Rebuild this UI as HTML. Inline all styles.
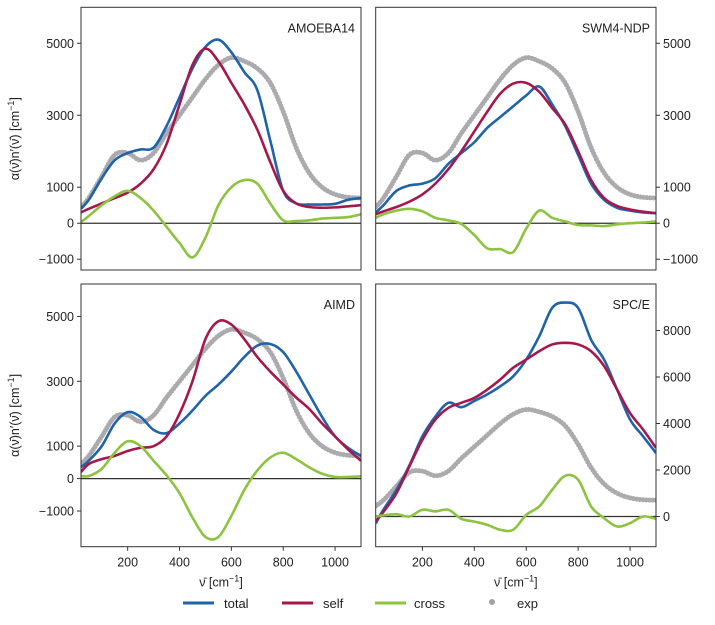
<!DOCTYPE html>
<html><head><meta charset="utf-8"><style>
body{margin:0;background:#fff;}
svg{display:block;font-family:"Liberation Sans","DejaVu Sans",sans-serif;}
</style></head><body>
<svg id="chart" width="715" height="625" viewBox="0 0 715 625"></svg>
<script>
const xs = [20,50,100,150,200,250,300,350,400,450,500,550,600,650,700,750,800,850,900,950,1000,1050,1100];
const expData = [450,700,1300,1900,1950,1750,1950,2500,3000,3500,4000,4400,4600,4500,4300,3900,3100,2100,1400,1000,800,720,700];
const amoebaTotal = [400,650,1250,1750,1950,2050,2100,2700,3500,4300,4900,5100,4750,4200,3700,2300,900,550,520,520,540,650,700];
const amoebaSelf = [300,400,550,700,850,1100,1500,2200,3300,4400,4850,4500,3900,3300,2600,1700,900,550,450,430,440,470,500];
const amoebaCross = [30,200,500,750,900,700,350,-100,-550,-950,-400,500,1000,1200,1100,550,80,60,80,130,150,170,250];
const swmTotal = [300,500,900,1050,1100,1250,1650,1950,2250,2650,2950,3250,3550,3800,3300,2700,1900,1100,650,430,350,300,280];
const swmSelf = [250,330,450,600,800,1100,1500,2000,2550,3100,3600,3880,3900,3650,3200,2750,2000,1200,700,480,380,320,280];
const swmCross = [150,250,350,400,330,150,80,-20,-330,-700,-720,-800,-150,350,150,50,-50,-60,-80,-30,0,20,50];
const aimdTotal = [350,550,1000,1700,2050,1900,1500,1400,1700,2100,2550,2900,3300,3750,4100,4150,3900,3300,2600,1900,1300,950,700];
const aimdSelf = [200,450,600,700,850,950,1000,1300,2000,3000,4300,4850,4750,4300,3750,3300,2900,2500,2150,1700,1300,900,550];
const aimdCross = [80,80,300,800,1150,1000,550,100,-450,-1200,-1800,-1800,-1150,-350,250,650,800,600,350,150,50,50,70];
const spceTotal = [-300,300,1150,2200,3450,4300,4890,4700,4970,5250,5600,6030,6750,7750,8970,9200,8970,7600,6750,5460,4170,3450,2730];
const spceSelf = [-200,200,1000,2160,3300,4170,4670,4890,5100,5460,5890,6400,6750,7110,7400,7470,7400,7110,6470,5460,4450,3740,2950];
const spceCross = [0,50,100,0,290,220,290,-100,-220,-360,-570,-570,70,430,1150,1750,1580,430,-70,-430,-290,0,-100];
const xTicks = [200,400,600,800,1000];
const yTicksA = [-1000,0,1000,3000,5000];
const yTicksB = [0,2000,4000,6000,8000];

const NS="http://www.w3.org/2000/svg";
const svg=document.getElementById('chart');
function mk(tag,attrs,parent){const e=document.createElementNS(NS,tag);for(const k in attrs)e.setAttribute(k,attrs[k]);(parent||svg).appendChild(e);return e;}

const panels=[
 {name:'AMOEBA14',key:'amoeba',x0:81,x1:361,y0:7.3,y1:270,ymin:-1300,ymax:6000,right:false,xt:false,ticks:yTicksA,t:amoebaTotal,s:amoebaSelf,c:amoebaCross},
 {name:'SWM4-NDP',key:'swm4-ndp',x0:375.7,x1:656,y0:7.3,y1:270,ymin:-1300,ymax:6000,right:true,xt:false,ticks:yTicksA,t:swmTotal,s:swmSelf,c:swmCross},
 {name:'AIMD',key:'aimd',x0:81,x1:361,y0:284,y1:546.7,ymin:-2100,ymax:6000,right:false,xt:true,ticks:yTicksA,t:aimdTotal,s:aimdSelf,c:aimdCross},
 {name:'SPC/E',key:'spce',x0:375.7,x1:656,y0:284,y1:546.7,ymin:-1300,ymax:10000,right:true,xt:true,ticks:yTicksB,t:spceTotal,s:spceSelf,c:spceCross}
];

function pathFor(vals,sx,sy){
  const p=xs.map((x,i)=>[sx(x),sy(vals[i])]);
  let d='M'+p[0][0].toFixed(2)+','+p[0][1].toFixed(2);
  for(let i=0;i<p.length-1;i++){
    const p0=p[i-1]||p[i],p1=p[i],p2=p[i+1],p3=p[i+2]||p2;
    const c1=[p1[0]+(p2[0]-p0[0])/6,p1[1]+(p2[1]-p0[1])/6];
    const c2=[p2[0]-(p3[0]-p1[0])/6,p2[1]-(p3[1]-p1[1])/6];
    d+=' C'+c1[0].toFixed(2)+','+c1[1].toFixed(2)+' '+c2[0].toFixed(2)+','+c2[1].toFixed(2)+' '+p2[0].toFixed(2)+','+p2[1].toFixed(2);
  }
  return d;
}

panels.forEach((P,pi)=>{
  const g=mk('g',{});
  
  
  const sx=x=>P.x0+(x-20)/(1100-20)*(P.x1-P.x0);
  const sy=v=>P.y1-(v-P.ymin)/(P.ymax-P.ymin)*(P.y1-P.y0);
  const cid='clip'+pi;
  const cp=mk('clipPath',{id:cid},g);
  mk('rect',{x:P.x0,y:P.y0,width:P.x1-P.x0,height:P.y1-P.y0},cp);
  const zl=mk('line',{x1:P.x0,x2:P.x1,y1:sy(0),y2:sy(0),stroke:'#333',"stroke-width":1.3},g);
  
  
  const cg=mk('g',{"clip-path":'url(#'+cid+')'},g);
  const ex=mk('path',{d:pathFor(expData,sx,sy),fill:'none',stroke:'#a2a2a6',"stroke-width":5,"stroke-linecap":'round',"stroke-dasharray":'0 3.2',opacity:0.9},cg);
  
  
  const order=[['total-series',P.t,'#1f63a9'],['self-series',P.s,'#a6184b'],['cross-series',P.c,'#8cc43f']];
  order.forEach(o=>{
    const e=mk('path',{d:pathFor(o[1],sx,sy),fill:'none',stroke:o[2],"stroke-width":2.6,"stroke-linejoin":'round'},cg);
    
    
  });
  const fr=mk('rect',{x:P.x0,y:P.y0,width:P.x1-P.x0,height:P.y1-P.y0,fill:'none',stroke:'#333',"stroke-width":1},g);
  
  
  const title=mk('text',{x:P.x1-6,y:P.y0+25,"text-anchor":'end',"font-size":12.5,fill:'#222'},g);
  title.textContent=P.name;
  
  
  P.ticks.forEach(v=>{
    const y=sy(v);
    if(P.right){
      mk('line',{x1:P.x1,x2:P.x1+4,y1:y,y2:y,stroke:'#333'},g);
      const t=mk('text',{x:P.x1+7,y:y+4.5,"font-size":12.5,fill:'#222'},g);
      t.textContent=v<0?'\u2212'+Math.abs(v):String(v);
      
      
    }else{
      mk('line',{x1:P.x0-4,x2:P.x0,y1:y,y2:y,stroke:'#333'},g);
      const t=mk('text',{x:P.x0-7,y:y+4.5,"font-size":12.5,fill:'#222',"text-anchor":'end'},g);
      t.textContent=v<0?'\u2212'+Math.abs(v):String(v);
      
      
    }
  });
  if(P.xt){
    xTicks.forEach(v=>{
      const x=sx(v);
      mk('line',{x1:x,x2:x,y1:P.y1,y2:P.y1+4,stroke:'#333'},g);
      const t=mk('text',{x:x,y:P.y1+20,"font-size":12.5,fill:'#222',"text-anchor":'middle'},g);
      t.textContent=String(v);
      
      
    });
    const xl=mk('text',{x:(P.x0+P.x1)/2,y:P.y1+40,"font-size":12.5,fill:'#222',"text-anchor":'middle'},g);
    xl.innerHTML='\u03bd\u0304 [cm<tspan dy="-5" font-size="9">\u22121</tspan><tspan dy="5">]</tspan>';
    
    
  }
  if(!P.right){
    const cy=(P.y0+P.y1)/2;
    const yl=mk('text',{x:0,y:0,"font-size":12.5,fill:'#222',"text-anchor":'middle',transform:'translate(19,'+cy+') rotate(-90)'},g);
    yl.innerHTML='\u03b1(\u03bd\u0304)n\u2032(\u03bd\u0304) [cm<tspan dy="-5" font-size="9">\u22121</tspan><tspan dy="5">]</tspan>';
    
    
  }
});

// legend
const lg=mk('g',{});


const legItems=[['total','#1f63a9',183,224],['self','#a6184b',282,323],['cross','#8cc43f',375,414]];
legItems.forEach(it=>{
  const e=mk('g',{},lg);
  
  
  mk('line',{x1:it[2],x2:it[2]+31,y1:603,y2:603,stroke:it[1],"stroke-width":3},e);
  const t=mk('text',{x:it[3],y:608,"font-size":13,fill:'#222'},e);
  t.textContent=it[0];
});
const ee=mk('g',{},lg);


mk('circle',{cx:492,cy:602,r:3,fill:'#a2a2a6'},ee);
const et=mk('text',{x:517,y:608,"font-size":13,fill:'#222'},ee);
et.textContent='exp';
</script>
</body></html>
